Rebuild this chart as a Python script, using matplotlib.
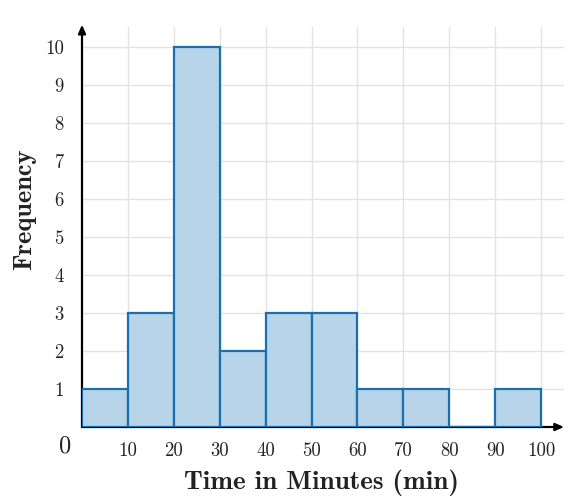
import numpy as np
import matplotlib.pyplot as plt

# histogram data
bin_edges = [0, 10, 20, 30, 40, 50, 60, 70, 80, 90, 100]
counts = [1, 3, 10, 2, 3, 3, 1, 1, 0, 1]
x_ticks = [10, 20, 30, 40, 50, 60, 70, 80, 90, 100]
y_ticks = [1, 2, 3, 4, 5, 6, 7, 8, 9, 10]

fill_col = '#b8d4e8'
edge_col = '#1a6faf'
text_col = '#222222'

fig = plt.figure(figsize=(5.84, 5.0), dpi=100)
ax = fig.add_axes([82/584, 73/500, 482/584, 400/500])

ax.set_xlim(0, 105)
ax.set_ylim(0, 10.52)

# grid
for xv in x_ticks:
    ax.axvline(xv, color='#e2e2e2', lw=1.0, zorder=0)
for yv in y_ticks:
    ax.axhline(yv, color='#e2e2e2', lw=1.0, zorder=0)

# axes with arrows
ax.annotate('', xy=(105, 0), xytext=(0, 0), annotation_clip=False,
            arrowprops=dict(arrowstyle='-|>,head_length=0.5,head_width=0.22',
                            color='black', lw=1.6, shrinkA=0, shrinkB=0), zorder=2)
ax.annotate('', xy=(0, 10.58), xytext=(0, 0), annotation_clip=False,
            arrowprops=dict(arrowstyle='-|>,head_length=0.5,head_width=0.22',
                            color='black', lw=1.6, shrinkA=0, shrinkB=0), zorder=2)

# bars
lefts = np.array(bin_edges[:-1])
widths = np.diff(bin_edges)
ax.bar(lefts, counts, width=widths, align='edge', color=fill_col,
       edgecolor=edge_col, linewidth=1.6, zorder=3)

for s in ax.spines.values():
    s.set_visible(False)
ax.set_xticks(x_ticks)
ax.set_yticks(y_ticks)
ax.tick_params(length=0, labelsize=13.5, colors=text_col)
ax.tick_params(axis='x', pad=11)
ax.tick_params(axis='y', pad=13)
for lab in ax.get_xticklabels() + ax.get_yticklabels():
    lab.set_family('cmr10')

ax.text(-3.6, -0.5, '0', family='cmr10', fontsize=17.5, color=text_col,
        ha='center', va='center')

fig.text(321/584, 17/500, 'Time in Minutes (min)', family='cmb10', fontsize=19.5,
         color=text_col, ha='center', va='center')
fig.text(25/584, 291/500, 'Frequency', family='cmb10', fontsize=19,
         color=text_col, ha='center', va='center', rotation=90)

fig.savefig('out.png', dpi=100)
